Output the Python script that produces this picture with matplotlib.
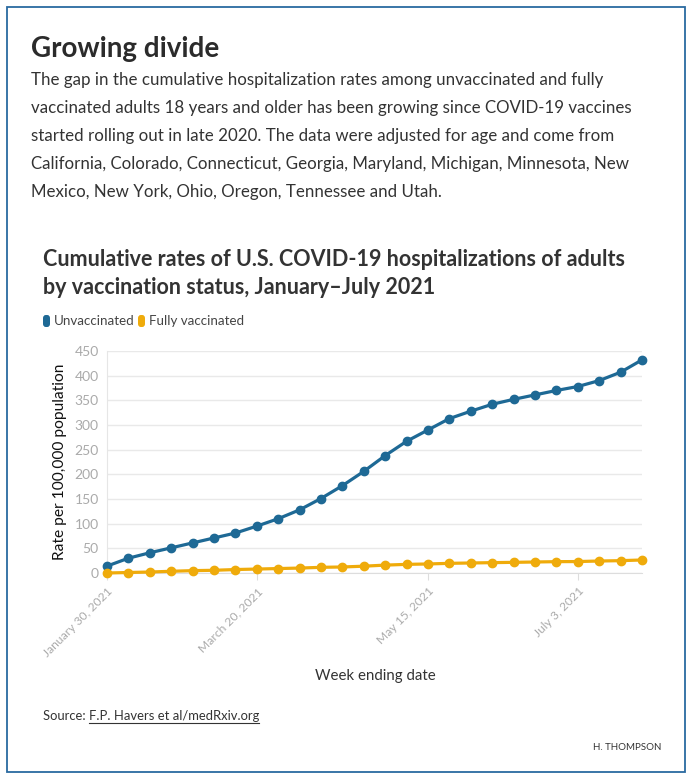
import matplotlib
matplotlib.use("Agg")
import matplotlib.pyplot as plt
from matplotlib.patches import Rectangle, FancyBboxPatch
from matplotlib.lines import Line2D

# ---- data ----
week_index = list(range(26))
unvaccinated = [14, 30, 41, 51, 61, 71, 81, 95, 110, 128, 151, 177, 206,
                238, 267, 290, 313, 328, 342, 352, 361, 370, 378, 390, 407, 432]
fully_vaccinated = [0, 1, 2, 3.5, 4.8, 5.5, 7, 8, 9, 10, 11.5, 12.2, 13.8,
                    16, 17.5, 18.3, 19.6, 20.3, 21, 21.6, 22.3, 23, 23.2, 24.3, 25, 26.4]
tick_positions = [0, 7, 15, 22]
tick_labels = ["January 30, 2021", "March 20, 2021", "May 15, 2021", "July 3, 2021"]
y_ticks = [0, 50, 100, 150, 200, 250, 300, 350, 400, 450]

BLUE = "#1e6995"
YELLOW = "#efab0b"
W, H = 696, 777

def fx(px):
    return px / W

def fy(py):
    return 1 - py / H

plt.rcParams['font.family'] = ['Lato', 'DejaVu Sans']

fig = plt.figure(figsize=(W / 100, H / 100), dpi=100)
fig.patch.set_facecolor("white")

# border
fig.patches.append(Rectangle((fx(7), fy(772)), fx(685) - fx(7), fy(7) - fy(772),
                             transform=fig.transFigure, fill=False,
                             edgecolor="#2a6aa0", linewidth=1.3))

# header texts
fig.text(fx(31), fy(49), "Growing divide", fontsize=20, fontweight="bold",
         color="#2b2b2b", va="center", ha="left")
body = ["The gap in the cumulative hospitalization rates among unvaccinated and fully",
        "vaccinated adults 18 years and older has been growing since COVID-19 vaccines",
        "started rolling out in late 2020. The data were adjusted for age and come from",
        "California, Colorado, Connecticut, Georgia, Maryland, Michigan, Minnesota, New",
        "Mexico, New York, Ohio, Oregon, Tennessee and Utah."]
for i, line in enumerate(body):
    fig.text(fx(31), fy(80 + 28 * i), line, fontsize=12.2, color="#333333",
             va="center", ha="left")

fig.text(fx(43), fy(260), "Cumulative rates of U.S. COVID-19 hospitalizations of adults",
         fontsize=15.5, fontweight="bold", color="#333333", va="center", ha="left")
fig.text(fx(43), fy(287), "by vaccination status, January\u2013July 2021",
         fontsize=15.5, fontweight="bold", color="#333333", va="center", ha="left")

# legend
for x0, col, lab in [(43, BLUE, "Unvaccinated"), (138, YELLOW, "Fully vaccinated")]:
    fig.patches.append(FancyBboxPatch((fx(x0), fy(327)), fx(7), fy(315) - fy(327),
                                      boxstyle="round,pad=0,rounding_size=0.004",
                                      transform=fig.transFigure, facecolor=col,
                                      edgecolor="none"))
    fig.text(fx(x0 + 11), fy(321), lab, fontsize=9.6, color="#444444",
             va="center", ha="left")

# axes
ax = fig.add_axes([fx(107), fy(573), fx(642) - fx(107), fy(351) - fy(573)])
ax.plot(week_index, unvaccinated, color=BLUE, lw=2.3, marker="o", ms=6,
        clip_on=False, zorder=4)
ax.plot(week_index, fully_vaccinated, color=YELLOW, lw=2.3, marker="o", ms=6,
        clip_on=False, zorder=4)
ax.set_xlim(0, 25)
ax.set_ylim(0, 450)
ax.set_yticks(y_ticks)
ax.set_yticklabels([str(v) for v in y_ticks])
ax.set_xticks(tick_positions)
ax.set_xticklabels(tick_labels, rotation=45, ha="right", va="top",
                   rotation_mode="anchor")
ax.grid(axis="y", color="#e9e9e9", lw=1)
ax.set_axisbelow(True)
for s in ["top", "right"]:
    ax.spines[s].set_visible(False)
ax.spines["left"].set_color("#e6e6e6")
ax.spines["bottom"].set_color("#dddddd")
ax.tick_params(axis="y", length=0, pad=6, labelsize=10, labelcolor="#aaaaaa")
ax.tick_params(axis="x", length=5, color="#dddddd", pad=4, labelsize=8.7,
               labelcolor="#aaaaaa")

fig.text(fx(60), fy(462), "Rate per 100,000 population", fontsize=11.2,
         color="#111111", rotation=90, va="center", ha="center")

fig.text(fx(375), fy(676), "Week ending date", fontsize=10.8, color="#333333",
         va="center", ha="center")

# source
t1 = fig.text(fx(43), fy(716), "Source: ", fontsize=9.4, color="#333333",
              va="center", ha="left")
fig.canvas.draw()
r = fig.canvas.get_renderer()
bb = t1.get_window_extent(r)
t2 = fig.text(bb.x1 / W, fy(716), "F.P. Havers et al/medRxiv.org", fontsize=9.4,
              color="#333333", va="center", ha="left")
bb2 = t2.get_window_extent(r)
fig.lines.append(Line2D([bb2.x0 / W, bb2.x1 / W], [fy(723), fy(723)],
                        transform=fig.transFigure, color="#333333", lw=0.8))

fig.text(fx(661), fy(748), "H. THOMPSON", fontsize=7, color="#333333",
         va="center", ha="right")

fig.savefig("out.png", dpi=100, facecolor="white")
